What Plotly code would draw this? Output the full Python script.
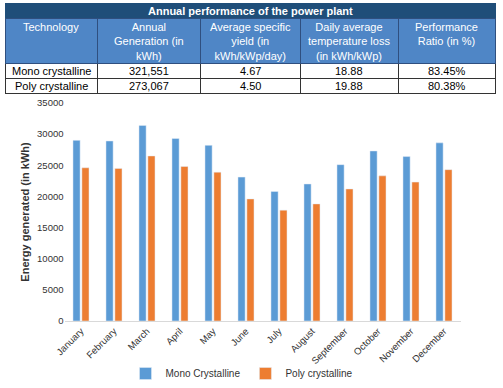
import plotly.graph_objects as go

W, H = 503, 388

months = ["January", "February", "March", "April", "May", "June", "July",
          "August", "September", "October", "November", "December"]
mono = [29000, 28900, 31400, 29300, 28200, 23100, 20800, 22000, 25100, 27300, 26400, 28600]
poly = [24600, 24500, 26500, 24800, 23900, 19600, 17800, 18800, 21200, 23300, 22300, 24300]

table_title = "Annual performance of the power plant"
table_headers = ["Technology", "Annual<br>Generation (in<br>kWh)", "Average specific<br>yield (in<br>kWh/kWp/day)",
                 "Daily average<br>temperature loss<br>(in kWh/kWp)", "Performance<br>Ratio (in %)"]
tech = ["Mono crystalline", "Poly crystalline"]
annual_gen = ["321,551", "273,067"]
spec_yield = ["4.67", "4.50"]
temp_loss = ["18.88", "19.88"]
perf_ratio = ["83.45%", "80.38%"]

FONT = "Liberation Sans"
BLUE = "#5B9BD5"
ORANGE = "#ED7D31"

def px_x(x):
    return x / W

def px_y(y):
    return 1 - y / H

fig = go.Figure()

fig.add_trace(go.Bar(x=months, y=mono, name="Mono Crystalline", marker_color=BLUE))
fig.add_trace(go.Bar(x=months, y=poly, name="Poly crystalline", marker_color=ORANGE))

TX0, TX1 = 5, 495
col_w = [92, 103, 100, 98, 97]
TITLE_TOP, HEAD_TOP, HEAD_H, ROW_H = 3, 18, 45, 15
columns = [tech, annual_gen, spec_yield, temp_loss, perf_ratio]
n_rows = len(tech)

# title row
fig.add_trace(go.Table(
    domain=dict(x=[px_x(TX0), px_x(TX1)], y=[px_y(40), px_y(TITLE_TOP)]),
    columnwidth=[1],
    header=dict(values=[""], fill_color="#1F4E79", line_color="#1F4E79", height=HEAD_TOP - TITLE_TOP + 1),
    cells=dict(values=[[]]),
))

# header + data rows (cell fills / borders; text placed as annotations below)
fig.add_trace(go.Table(
    domain=dict(x=[px_x(TX0), px_x(TX1)], y=[px_y(100), px_y(HEAD_TOP)]),
    columnwidth=col_w,
    header=dict(values=[""] * len(table_headers), fill_color="#4F86C6", line_color="#2F4F7F",
                height=HEAD_H),
    cells=dict(values=[[""] * n_rows for _ in columns],
               fill_color="white", line_color="#333333", height=ROW_H),
))

annotations = [dict(text="<b>" + table_title + "</b>", x=px_x((TX0 + TX1) / 2),
                    y=px_y((TITLE_TOP + HEAD_TOP) / 2 + 0.5),
                    xref="paper", yref="paper", showarrow=False, xanchor="center", yanchor="middle",
                    font=dict(family=FONT, size=11, color="white"))]
total_w = sum(col_w)
x_left = TX0
for i, hdr in enumerate(table_headers):
    cw = col_w[i] / total_w * (TX1 - TX0)
    xc = px_x(x_left + cw / 2)
    annotations.append(dict(text=hdr, x=xc, y=px_y(HEAD_TOP + 1),
                            xref="paper", yref="paper", showarrow=False,
                            xanchor="center", yanchor="top", align="center",
                            font=dict(family=FONT, size=11, color="white")))
    for r in range(n_rows):
        yc = HEAD_TOP + HEAD_H + ROW_H * r + ROW_H / 2
        annotations.append(dict(text=columns[i][r], x=xc, y=px_y(yc),
                                xref="paper", yref="paper", showarrow=False,
                                xanchor="center", yanchor="middle",
                                font=dict(family=FONT, size=11, color="black")))
    x_left += cw

fig.update_layout(
    width=W, height=H,
    margin=dict(l=0, r=0, t=0, b=0),
    paper_bgcolor="white", plot_bgcolor="white",
    barmode="group", bargap=0.46, bargroupgap=0.2,
    font=dict(family=FONT, size=10, color="#333333"),
    showlegend=True,
    annotations=annotations,
    legend=dict(orientation="h", x=px_x(242), xanchor="center", y=0.0, yanchor="bottom",
                font=dict(family=FONT, size=10, color="#333333"), itemwidth=30,
                bgcolor="rgba(0,0,0,0)"),
    xaxis=dict(domain=[px_x(64.5), px_x(460.5)], tickangle=-45, showgrid=False,
               showline=True, linecolor="#D9D9D9", ticks="", automargin=False,
               tickfont=dict(family=FONT, size=9.5, color="#333333")),
    yaxis=dict(domain=[px_y(321), px_y(103)], range=[0, 35000], dtick=5000, tickformat="d",
               showgrid=False, showline=False, zeroline=False, ticks="", automargin=False,
               tickfont=dict(family=FONT, size=9.5, color="#333333"),
               title=dict(text="<b>Energy generated (in kWh)</b>", standoff=5,
                          font=dict(family=FONT, size=11, color="#333333"))),
)

fig.write_html("out.html", config={"displayModeBar": False},
               post_script="document.body.style.margin='0';document.body.style.overflow='hidden';")
